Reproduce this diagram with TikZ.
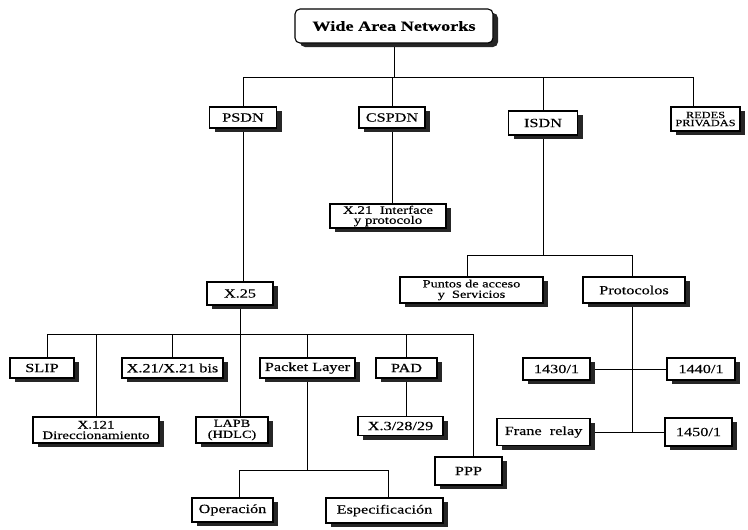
\documentclass[tikz,border=0pt]{standalone}
\usepackage{fontspec}
\setmainfont{Liberation Serif}[FakeStretch=1.3, FakeBold=0.35]
\usetikzlibrary{shadows,backgrounds}

\tikzset{
  box/.style={draw=black, line width=1.1pt, fill=white, inner sep=0pt,
    align=center, font=\fontsize{12.5}{11}\selectfont,
    drop shadow={shadow xshift=5pt, shadow yshift=-4pt, fill=black!85, opacity=1}},
  link/.style={line width=0.8pt, black},
}

\begin{document}
\begin{tikzpicture}[x=1pt, y=-1pt]
\useasboundingbox (0,0) rectangle (748,530);

% top level
\node[box, rounded corners=5pt, minimum width=198pt, minimum height=34pt,
      font=\fontsize{14}{14}\bfseries] (wan) at (394,26) {Wide Area Networks};

\node[box, minimum width=67pt, minimum height=21pt] (psdn) at (243,117.5) {PSDN};
\node[box, minimum width=66pt, minimum height=21pt] (cspdn) at (392,117.5) {CSPDN};
\node[box, minimum width=69pt, minimum height=24pt] (isdn) at (543,123) {ISDN};
\node[box, minimum width=69pt, minimum height=24pt,
      font=\fontsize{9.5}{8}\selectfont] (redes) at (705.5,119) {REDES\\PRIVADAS};

% second level
\node[box, minimum width=116pt, minimum height=24pt,
      font=\fontsize{11.5}{10}\selectfont] (x21if) at (388,216) {X.21~ Interface\\y protocolo};
\node[box, minimum width=143pt, minimum height=26pt,
      font=\fontsize{11}{10.5}\selectfont] (puntos) at (471.5,290) {Puntos de acceso\\y~ Servicios};
\node[box, minimum width=102pt, minimum height=26pt] (protocolos) at (634,290) {Protocolos};
\node[box, minimum width=66pt, minimum height=23pt] (x25) at (240,293.5) {X.25};

% X.25 family
\node[box, minimum width=64pt, minimum height=20pt] (slip) at (42,368) {SLIP};
\node[box, minimum width=101pt, minimum height=20pt] (x21bis) at (172.5,368) {X.21/X.21 bis};
\node[box, minimum width=95pt, minimum height=20pt] (packet) at (307.5,368) {Packet Layer};
\node[box, minimum width=61pt, minimum height=20pt] (pad) at (406.5,368) {PAD};
\node[box, minimum width=126pt, minimum height=26pt,
      font=\fontsize{11.5}{10.5}\selectfont] (x121) at (96,430) {X.121\\Direccionamiento};
\node[box, minimum width=72pt, minimum height=26pt,
      font=\fontsize{11}{11}\selectfont] (lapb) at (232,430) {LAPB\\(HDLC)};
\node[box, minimum width=85pt, minimum height=19pt] (x3) at (400.5,426) {X.3/28/29};
\node[box, minimum width=67pt, minimum height=28pt] (ppp) at (468.5,471) {PPP};
\node[box, minimum width=81pt, minimum height=24pt] (oper) at (232.5,510) {Operación};
\node[box, minimum width=117pt, minimum height=25pt] (espec) at (384.5,510.5) {Especificación};

% ISDN protocols
\node[box, minimum width=67pt, minimum height=22pt] (n1430) at (556.5,369) {1430/1};
\node[box, minimum width=68pt, minimum height=22pt] (n1440) at (701,369) {1440/1};
\node[box, minimum width=93pt, minimum height=27pt] (frame) at (543.5,432) {Frane~ relay};
\node[box, minimum width=67pt, minimum height=28pt] (n1450) at (698.5,432) {1450/1};

% bus joints
\coordinate (t1) at (243,77);
\coordinate (t2) at (693,77);
\coordinate (u1) at (47,334);
\coordinate (u2) at (473,334);
\coordinate (v1) at (239,470);
\coordinate (v2) at (388,470);
\coordinate (w1) at (467,255);
\coordinate (w2) at (632,255);

\begin{scope}[on background layer, link]
  % top bus
  \draw (t1) -- (t2);
  \draw (wan) -- (wan |- t1);
  \draw (psdn) -- (psdn |- t1);
  \draw (cspdn) -- (cspdn |- t1);
  \draw (isdn) -- (isdn |- t1);
  \draw (t2) -- (t2 |- redes.north);
  % CSPDN and PSDN branches
  \draw (cspdn) -- (cspdn |- x21if.north);
  \draw (psdn) -- (psdn |- x25.north);
  % X.25 bus
  \draw (u1) -- (u2);
  \draw (x25.south) -- (x25.south |- lapb.north);
  \draw (u1) -- (u1 |- slip.north);
  \draw (x121) -- (x121 |- u1);
  \draw (x21bis) -- (x21bis |- u1);
  \draw (packet) -- (packet |- u1);
  \draw (pad) -- (pad |- u1);
  \draw (u2) -- (u2 |- ppp.north);
  \draw (pad) -- (pad |- x3.north);
  % packet layer bus
  \draw (packet) -- (packet |- v1);
  \draw (v1) -- (v2);
  \draw (v1) -- (v1 |- oper.north);
  \draw (v2) -- (v2 |- espec.north);
  % ISDN bus
  \draw (isdn) -- (isdn |- w1);
  \draw (w1) -- (w2);
  \draw (w1) -- (w1 |- puntos.north);
  \draw (w2) -- (w2 |- protocolos.north);
  \draw (w2 |- protocolos.south) -- (w2 |- frame);
  \draw (n1430) -- (n1440);
  \draw (frame) -- (n1450);
\end{scope}
\end{tikzpicture}
\end{document}
